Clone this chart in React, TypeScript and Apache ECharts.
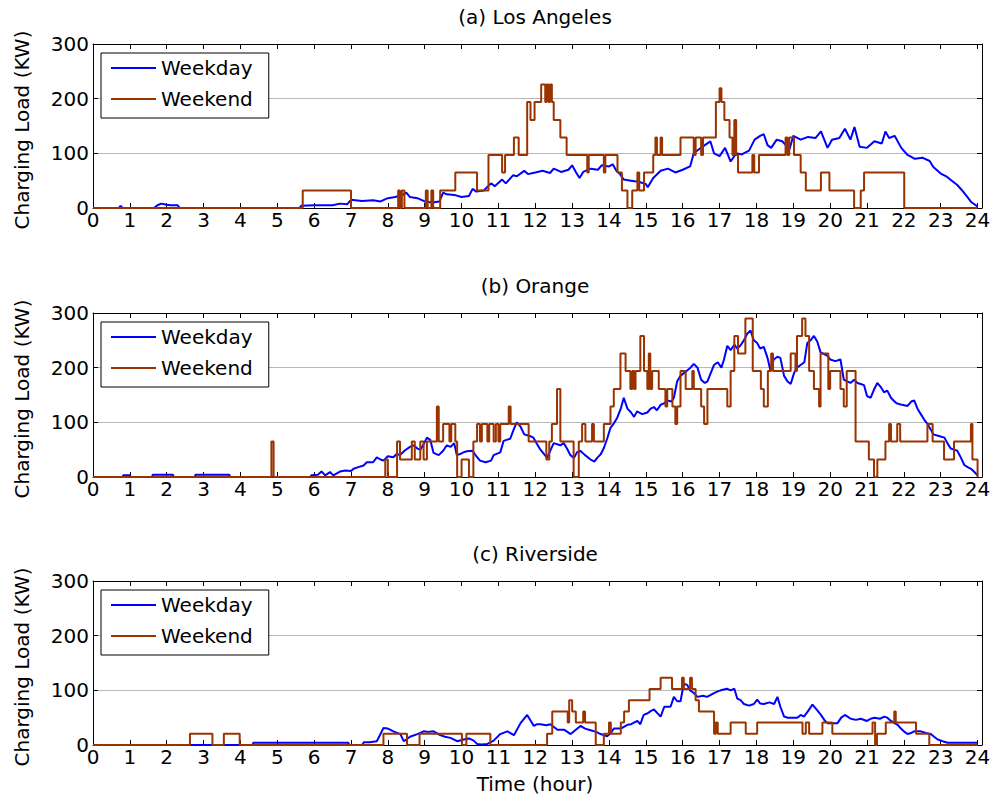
import React, { useEffect, useRef } from 'react';
import * as echarts from 'echarts';

const panelTitles = ['(a) Los Angeles', '(b) Orange', '(c) Riverside'];
const seriesNames = ['Weekday', 'Weekend'];
const yAxisTitle = 'Charging Load (KW)';
const xAxisTitle = 'Time (hour)';

const laWeekday: number[][] = [[0,0],[0.7,0],[0.75,4],[0.8,0],[1.65,0],[1.75,5],[1.85,8],[2.0,6],[2.1,5],[2.3,5],[2.35,0],[5.6,0],[5.65,4],[6.0,5],[6.5,5],[6.7,8],[6.9,7],[7.0,15],[7.3,13],[7.6,14],[7.8,12],[8.0,18],[8.2,20],[8.4,24],[8.5,28],[8.6,20],[8.8,18],[9.0,12],[9.2,10],[9.4,12],[9.5,28],[9.6,25],[9.8,24],[10.0,20],[10.2,22],[10.3,35],[10.4,30],[10.6,32],[10.8,45],[10.9,40],[11.1,52],[11.2,45],[11.4,60],[11.5,58],[11.7,68],[11.8,62],[12.0,65],[12.2,68],[12.4,64],[12.5,72],[12.7,66],[12.9,70],[13.0,78],[13.1,66],[13.2,55],[13.3,66],[13.5,72],[13.7,70],[13.8,78],[14.0,76],[14.1,80],[14.2,68],[14.3,62],[14.4,52],[14.6,50],[14.8,48],[15.0,44],[15.05,38],[15.2,55],[15.4,68],[15.6,72],[15.8,65],[16.0,70],[16.2,76],[16.3,100],[16.45,108],[16.6,115],[16.75,122],[16.85,100],[17.0,95],[17.15,110],[17.3,85],[17.45,100],[17.6,98],[17.8,105],[17.95,125],[18.1,132],[18.2,135],[18.3,115],[18.4,110],[18.55,125],[18.7,122],[18.9,108],[19.0,132],[19.2,125],[19.4,130],[19.6,128],[19.75,140],[19.93,110],[20.05,125],[20.25,128],[20.4,145],[20.55,125],[20.66,148],[20.8,112],[21.0,110],[21.2,122],[21.4,118],[21.5,140],[21.6,128],[21.75,132],[21.93,110],[22.1,97],[22.3,90],[22.5,92],[22.7,86],[22.8,75],[23.0,63],[23.15,58],[23.3,50],[23.45,42],[23.57,33],[23.7,22],[23.84,10],[24,3]];

const laWeekend: number[][] = [[0,0],[5.69,32],[7.0,0],[8.28,32],[8.33,0],[8.38,32],[8.45,0],[9.03,32],[9.08,0],[9.18,32],[9.23,0],[9.42,32],[9.83,65],[10.42,32],[10.73,97],[11.1,65],[11.18,97],[11.42,129],[11.55,97],[11.78,194],[11.87,161],[11.98,194],[12.16,226],[12.27,194],[12.31,226],[12.36,194],[12.4,226],[12.45,194],[12.5,161],[12.68,129],[12.85,97],[13.41,65],[13.45,97],[13.86,65],[13.9,97],[14.23,65],[14.35,32],[14.5,0],[14.63,32],[14.77,65],[14.82,32],[14.95,65],[15.2,97],[15.26,129],[15.3,97],[15.4,129],[15.44,97],[15.94,129],[16.3,97],[16.35,129],[16.5,97],[16.55,129],[16.9,194],[17.0,219],[17.05,194],[17.13,161],[17.27,129],[17.35,97],[17.4,161],[17.45,97],[17.5,65],[17.89,97],[17.94,65],[18.07,97],[18.79,129],[18.84,97],[18.89,129],[19.02,97],[19.2,65],[19.34,32],[19.75,65],[19.98,32],[20.65,0],[20.83,32],[20.92,65],[22.01,0],[24,0]];

const orWeekday: number[][] = [[0,0],[0.8,0],[0.82,3],[1.0,3],[1.02,0],[1.6,0],[1.62,4],[2.17,4],[2.19,0],[2.76,0],[2.78,4],[3.7,4],[3.72,0],[5.9,0],[5.92,3],[6.1,4],[6.2,10],[6.3,3],[6.43,9],[6.52,3],[6.7,10],[6.85,12],[7.0,11],[7.07,15],[7.2,18],[7.34,21],[7.43,27],[7.6,27],[7.7,36],[7.8,32],[7.88,30],[8.0,38],[8.15,36],[8.24,42],[8.33,40],[8.45,48],[8.6,55],[8.7,58],[8.8,52],[8.88,50],[8.97,60],[9.06,72],[9.15,68],[9.24,44],[9.38,40],[9.5,48],[9.6,58],[9.7,55],[9.8,62],[9.87,40],[9.96,42],[10.05,45],[10.14,47],[10.3,48],[10.4,38],[10.5,30],[10.65,27],[10.8,30],[10.87,40],[11.05,45],[11.14,66],[11.32,70],[11.42,88],[11.5,100],[11.6,92],[11.7,78],[11.85,75],[11.95,72],[12.05,60],[12.14,50],[12.32,35],[12.42,50],[12.5,62],[12.68,58],[12.77,62],[12.86,52],[12.95,40],[13.05,35],[13.13,45],[13.22,48],[13.35,40],[13.5,32],[13.6,28],[13.68,35],[13.78,42],[13.86,53],[13.95,70],[14.04,90],[14.13,98],[14.22,108],[14.32,125],[14.4,145],[14.5,125],[14.6,118],[14.68,110],[14.76,120],[14.9,115],[15.04,118],[15.13,125],[15.22,128],[15.3,122],[15.4,132],[15.5,135],[15.58,140],[15.7,138],[15.76,145],[15.85,175],[15.94,185],[16.03,190],[16.12,195],[16.21,200],[16.3,207],[16.4,200],[16.5,178],[16.6,172],[16.67,175],[16.76,190],[16.85,205],[16.95,210],[17.05,200],[17.12,215],[17.21,240],[17.3,232],[17.4,242],[17.48,235],[17.56,240],[17.66,250],[17.75,262],[17.84,268],[17.93,250],[18.02,245],[18.1,235],[18.2,238],[18.3,218],[18.38,195],[18.47,215],[18.57,220],[18.65,218],[18.75,185],[18.84,175],[18.93,170],[19.02,190],[19.1,200],[19.2,205],[19.3,210],[19.38,245],[19.47,250],[19.56,258],[19.65,248],[19.74,228],[19.83,225],[19.92,222],[20.0,215],[20.14,212],[20.28,215],[20.37,178],[20.46,175],[20.55,172],[20.65,178],[20.74,172],[20.83,170],[20.92,168],[21.0,148],[21.1,145],[21.19,160],[21.28,172],[21.37,165],[21.46,155],[21.55,158],[21.65,145],[21.72,140],[21.8,135],[21.95,132],[22.1,130],[22.2,138],[22.28,140],[22.37,125],[22.46,115],[22.55,105],[22.64,97],[22.72,88],[22.8,78],[22.95,75],[23.1,72],[23.18,62],[23.27,52],[23.36,50],[23.45,48],[23.55,35],[23.64,22],[23.73,18],[23.82,15],[23.9,10],[24,3]];

const orWeekend: number[][] = [[0,0],[4.84,65],[4.9,0],[7.93,32],[8.0,0],[8.25,65],[8.33,32],[8.65,65],[8.73,32],[8.88,65],[8.97,32],[9.06,65],[9.33,129],[9.38,65],[9.5,97],[9.67,65],[9.72,97],[9.83,65],[9.88,0],[10.0,32],[10.2,0],[10.32,65],[10.42,97],[10.5,65],[10.55,97],[10.7,65],[10.75,97],[10.87,65],[10.93,97],[11.0,65],[11.05,97],[11.28,129],[11.33,97],[11.82,65],[12.3,32],[12.38,65],[12.45,97],[12.59,161],[12.68,65],[13.04,0],[13.18,65],[13.27,97],[13.36,65],[13.54,97],[13.59,65],[13.86,97],[14.04,129],[14.13,161],[14.31,226],[14.45,194],[14.58,161],[14.63,194],[14.68,161],[14.72,194],[14.85,258],[14.95,194],[15.04,161],[15.08,226],[15.12,161],[15.17,194],[15.35,161],[15.53,129],[15.58,161],[15.72,129],[15.8,97],[15.85,129],[15.94,194],[16.08,161],[16.26,194],[16.3,161],[16.5,129],[16.58,97],[16.67,161],[17.21,129],[17.3,194],[17.4,258],[17.5,226],[17.7,290],[17.9,194],[18.12,161],[18.2,129],[18.31,194],[18.4,226],[18.45,194],[18.93,226],[19.06,194],[19.1,258],[19.24,290],[19.33,258],[19.43,194],[19.56,161],[19.7,129],[19.74,226],[19.95,161],[20.0,194],[20.28,161],[20.37,129],[20.45,194],[20.69,65],[21.05,32],[21.19,0],[21.28,32],[21.5,65],[21.6,97],[21.65,65],[21.82,97],[21.9,65],[22.64,97],[22.78,65],[23.09,32],[23.36,65],[23.82,97],[23.86,32],[24,0]];

const rvWeekday: number[][] = [[0,0],[4.33,0],[4.35,4],[6.93,4],[6.95,0],[7.3,0],[7.35,5],[7.5,5],[7.7,7],[7.8,20],[7.88,31],[8.0,30],[8.06,28],[8.15,25],[8.34,20],[8.43,7],[8.5,10],[8.6,15],[8.8,20],[8.97,25],[9.1,24],[9.24,25],[9.42,18],[9.55,15],[9.7,13],[9.88,7],[10.06,10],[10.2,12],[10.33,8],[10.42,2],[10.55,1],[10.7,2],[10.87,8],[11.05,20],[11.24,25],[11.42,18],[11.6,40],[11.78,55],[11.87,45],[11.96,35],[12.05,38],[12.14,38],[12.3,36],[12.41,38],[12.6,28],[12.78,28],[12.96,20],[13.1,28],[13.23,35],[13.35,30],[13.5,27],[13.65,24],[13.77,20],[13.95,16],[14.05,22],[14.13,30],[14.32,30],[14.5,37],[14.6,38],[14.77,44],[14.85,38],[14.94,55],[15.05,58],[15.13,62],[15.22,65],[15.4,52],[15.5,70],[15.67,70],[15.76,88],[15.85,80],[15.94,80],[16.03,112],[16.12,110],[16.2,100],[16.3,95],[16.4,88],[16.55,90],[16.66,88],[16.85,95],[16.95,98],[17.03,100],[17.2,103],[17.3,100],[17.4,103],[17.48,85],[17.57,82],[17.66,75],[17.8,72],[17.93,75],[18.02,83],[18.1,76],[18.2,75],[18.35,78],[18.48,75],[18.57,88],[18.65,70],[18.75,52],[18.85,50],[18.93,50],[19.11,50],[19.2,55],[19.29,52],[19.4,62],[19.52,74],[19.63,65],[19.75,55],[19.85,45],[19.93,40],[20.05,40],[20.2,40],[20.3,50],[20.4,55],[20.47,52],[20.56,48],[20.7,46],[20.83,48],[21.0,44],[21.1,48],[21.2,50],[21.35,48],[21.47,52],[21.55,50],[21.65,44],[21.75,40],[21.83,37],[21.92,30],[22.0,25],[22.1,20],[22.2,22],[22.28,25],[22.46,25],[22.6,22],[22.73,20],[22.82,15],[22.92,10],[23.05,7],[23.19,4],[24,4]];

const rvWeekend: number[][] = [[0,0],[2.63,20.5],[3.24,0],[3.55,20.5],[3.98,0],[7.88,20.5],[8.52,0],[8.86,20.5],[10.01,0],[10.13,20.5],[10.78,0],[12.32,20.5],[12.46,61.5],[12.88,41],[12.92,82],[13.0,61.5],[13.1,41],[13.3,61.5],[13.35,41],[13.64,0],[13.86,20.5],[14.0,41],[14.05,20.5],[14.32,41],[14.41,61.5],[14.54,82],[15.1,102.5],[15.4,123],[15.71,102.5],[15.98,123],[16.03,102.5],[16.2,123],[16.25,102.5],[16.35,82],[16.44,61.5],[16.85,20.5],[16.9,41],[16.95,20.5],[17.3,41],[17.71,20.5],[18.02,41],[19.25,20.5],[19.34,41],[19.43,20.5],[19.79,41],[20.06,20.5],[21.15,41],[21.22,0],[21.27,20.5],[21.51,41],[21.74,61.5],[21.78,41],[22.33,20.5],[22.69,0],[24,0]];

const weekdayData = [laWeekday, orWeekday, rvWeekday];
const weekendData = [laWeekend, orWeekend, rvWeekend];

const FONT = 'DejaVu Sans';
const FS = 20;
const BLUE = '#0000ff';
const BROWN = '#993300';
const gridTops = [44, 313, 581];
const gridH = 164;
const gridLeft = 93;
const gridW = 889;
const xMax = 24.12;

export default function App() {
  const ref = useRef<HTMLDivElement>(null);
  useEffect(() => {
    if (!ref.current) return;
    const chart = echarts.init(ref.current, undefined, { renderer: 'svg' });
    const grids: any[] = [];
    const xAxes: any[] = [];
    const yAxes: any[] = [];
    const series: any[] = [];
    const legends: any[] = [];
    const graphics: any[] = [];
    const tickStyle = { inside: true, length: 5, lineStyle: { color: '#000', width: 1 } };
    const lineStyle = { show: true, onZero: false, lineStyle: { color: '#000', width: 1 } };
    const labelStyle = { color: '#000', fontFamily: FONT, fontSize: FS };
    for (let i = 0; i < 3; i++) {
      grids.push({ left: gridLeft, top: gridTops[i], width: gridW, height: gridH, show: false });
      xAxes.push({
        gridIndex: i, type: 'value', min: 0, max: xMax, interval: 1, position: 'bottom',
        axisLine: lineStyle, axisTick: tickStyle,
        axisLabel: { ...labelStyle, margin: 2, formatter: (v: number) => (Number.isInteger(v) ? String(v) : '') },
        splitLine: { show: false },
      });
      xAxes.push({
        gridIndex: i, type: 'value', min: 0, max: xMax, interval: 1, position: 'top',
        axisLine: lineStyle, axisTick: tickStyle, axisLabel: { show: false }, splitLine: { show: false },
      });
      yAxes.push({
        gridIndex: i, type: 'value', min: 0, max: 300, interval: 100, position: 'left',
        axisLine: lineStyle, axisTick: tickStyle,
        axisLabel: { ...labelStyle, margin: 4 },
        splitLine: { show: true, lineStyle: { color: '#b8b8b8', width: 1 } },
      });
      yAxes.push({
        gridIndex: i, type: 'value', min: 0, max: 300, interval: 100, position: 'right',
        axisLine: lineStyle, axisTick: tickStyle, axisLabel: { show: false }, splitLine: { show: false },
      });
      series.push({
        type: 'line', name: seriesNames[0], xAxisIndex: 2 * i, yAxisIndex: 2 * i,
        data: weekdayData[i], symbol: 'none', showSymbol: false,
        lineStyle: { color: BLUE, width: 2 }, itemStyle: { color: BLUE }, z: 3,
      });
      series.push({
        type: 'line', name: seriesNames[1], xAxisIndex: 2 * i, yAxisIndex: 2 * i,
        data: weekendData[i], step: 'end', symbol: 'none', showSymbol: false,
        lineStyle: { color: BROWN, width: 2 }, itemStyle: { color: BROWN }, z: 4,
      });
      legends.push({
        left: 101, top: gridTops[i] + 9, orient: 'vertical', data: seriesNames,
        icon: 'rect', itemWidth: 45, itemHeight: 2, itemGap: 11,
        padding: [5, 16, 9, 10], borderColor: '#000', borderWidth: 1, borderRadius: 0,
        backgroundColor: '#fff', selectedMode: false,
        textStyle: { color: '#000', fontFamily: FONT, fontSize: FS },
      });
      graphics.push({
        type: 'text', x: 535, y: gridTops[i] - 27,
        style: { text: panelTitles[i], fill: '#000', fontFamily: FONT, fontSize: FS, align: 'center', verticalAlign: 'middle', textAlign: 'center', textVerticalAlign: 'middle' },
      });
      graphics.push({
        type: 'text', x: 22, y: gridTops[i] + gridH / 2 + 4, rotation: Math.PI / 2,
        style: { text: yAxisTitle, fill: '#000', fontFamily: FONT, fontSize: FS, align: 'center', verticalAlign: 'middle', textAlign: 'center', textVerticalAlign: 'middle' },
      });
    }
    graphics.push({
      type: 'text', x: 535, y: 784,
      style: { text: xAxisTitle, fill: '#000', fontFamily: FONT, fontSize: FS, align: 'center', verticalAlign: 'middle', textAlign: 'center', textVerticalAlign: 'middle' },
    });
    chart.setOption({
      animation: false,
      backgroundColor: '#fff',
      grid: grids,
      xAxis: xAxes,
      yAxis: yAxes,
      series,
      legend: legends,
      graphic: graphics,
    });
    return () => chart.dispose();
  }, []);
  return <div ref={ref} style={{ position: 'absolute', left: 0, top: 0, width: 995, height: 801 }} />;
}
